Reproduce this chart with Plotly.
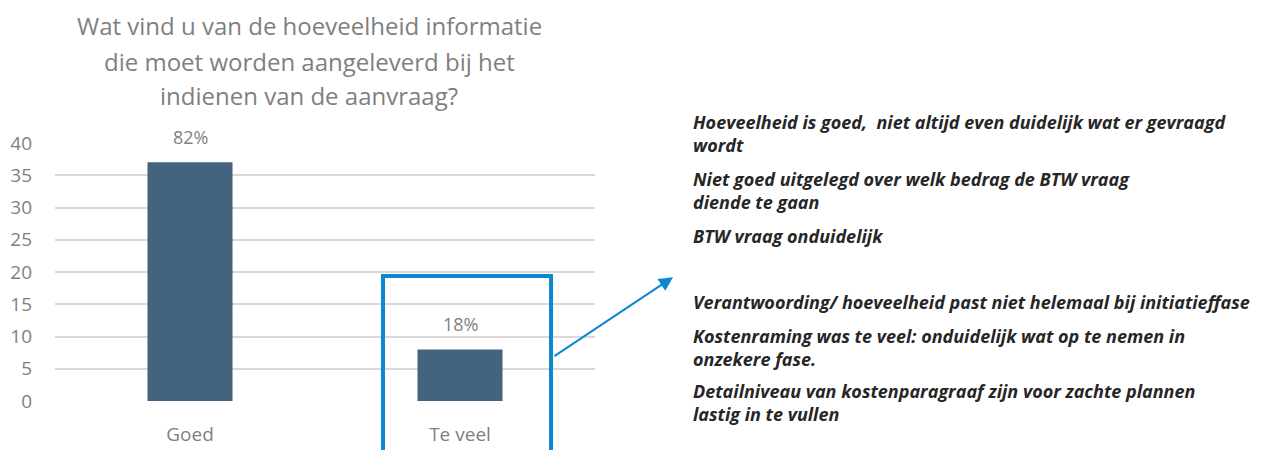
import plotly.graph_objects as go

# ---- data ----
categories = ["Goed", "Te veel"]
counts = [37, 8]
y_ticks = [0, 5, 10, 15, 20, 25, 30, 35, 40]
title_lines = [
    "Wat vind u van de hoeveelheid informatie",
    "die moet worden aangeleverd bij het",
    "indienen van de aanvraag?",
]
comments = [
    "Hoeveelheid is goed,  niet altijd even duidelijk wat er gevraagd<br>wordt",
    "Niet goed uitgelegd over welk bedrag de BTW vraag<br>diende te gaan",
    "BTW vraag onduidelijk",
    "Verantwoording/ hoeveelheid past niet helemaal bij initiatieffase",
    "Kostenraming was te veel: onduidelijk wat op te nemen in<br>onzekere fase.",
    "Detailniveau van kostenparagraaf zijn voor zachte plannen<br>lastig in te vullen",
]
comment_tops = [108, 165, 222, 288, 322, 377]  # pixel tops of each comment block

total = sum(counts)
pct_labels = [f"{round(c / total * 100)}%" for c in counts]

W, H = 1270, 450
ML, MR, MT, MB = 55, 675, 143, 49
PW = W - ML - MR
PH = H - MT - MB

GRAY = "#7f7f7f"
BAR = "#43637e"
BLUE = "#0a88d2"
FONT = "Open Sans"


def px_x(p):
    return (p - ML) / PW


def px_y(p):
    return (H - MB - p) / PH


fig = go.Figure()
fig.add_trace(go.Bar(
    x=categories, y=counts, width=0.315,
    marker=dict(color=BAR, line=dict(width=0)),
    hoverinfo="skip", cliponaxis=False,
))

annotations = []
for c, v, lab in zip(categories, counts, pct_labels):
    annotations.append(dict(
        x=c, y=v, xref="x", yref="y", text=lab, showarrow=False,
        yshift=25, font=dict(family=FONT, size=18, color=GRAY),
    ))

# title lines
title_centers = [25, 61, 96]
for line, yc in zip(title_lines, title_centers):
    annotations.append(dict(
        x=px_x(309), y=px_y(yc), xref="paper", yref="paper",
        text=line, showarrow=False, xanchor="center", yanchor="middle",
        font=dict(family=FONT, size=24, color=GRAY),
    ))

# comments
for txt, top in zip(comments, comment_tops):
    annotations.append(dict(
        x=px_x(691), y=px_y(top), xref="paper", yref="paper",
        text=f"<b><i>{txt}</i></b>", showarrow=False, xanchor="left", yanchor="top",
        align="left", font=dict(family=FONT, size=18, color="#262626"),
    ))

# arrow
annotations.append(dict(
    x=1.789, y=19.2, ax=1.344, ay=6.8, xref="x", yref="y", axref="x", ayref="y",
    text="", showarrow=True, arrowhead=2, arrowsize=1.4, arrowwidth=2,
    arrowcolor=BLUE, standoff=0,
))

fig.update_layout(
    width=W, height=H,
    margin=dict(l=ML, r=MR, t=MT, b=MB, pad=0, autoexpand=False),
    paper_bgcolor="white", plot_bgcolor="white",
    showlegend=False,
    annotations=annotations,
    shapes=[dict(
        type="rect", xref="paper", yref="paper",
        x0=px_x(383), x1=px_x(551), y0=px_y(470), y1=px_y(276),
        line=dict(color=BLUE, width=4), layer="above",
    )],
    xaxis=dict(
        range=[-0.5, 1.5], showgrid=False, showline=False, zeroline=False,
        ticks="", tickfont=dict(family=FONT, size=19, color=GRAY),
        ticklabelstandoff=20, automargin=False,
    ),
    yaxis=dict(
        range=[0, 40], tickvals=y_ticks, showgrid=True, gridcolor="#d9d9d9",
        gridwidth=1.5, zeroline=False, showline=False, ticks="",
        tickfont=dict(family=FONT, size=19, color=GRAY),
        ticklabelstandoff=22, automargin=False,
    ),
)

fig.write_html(
    "out.html",
    config={"displayModeBar": False},
    post_script="document.body.style.margin='0px';document.body.style.overflow='hidden';",
)
